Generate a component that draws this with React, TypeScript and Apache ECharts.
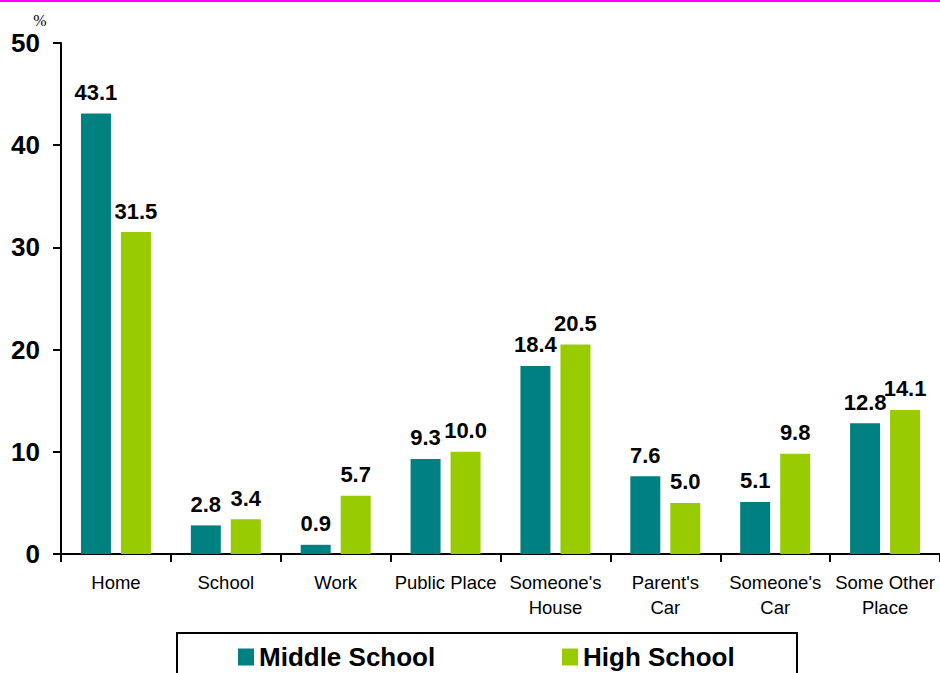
import React, { useEffect, useRef } from "react";
import * as echarts from "echarts";

const categories = [
  "Home",
  "School",
  "Work",
  "Public Place",
  "Someone's\nHouse",
  "Parent's\nCar",
  "Someone's\nCar",
  "Some Other\nPlace",
];
const middleSchool = [43.1, 2.8, 0.9, 9.3, 18.4, 7.6, 5.1, 12.8];
const highSchool = [31.5, 3.4, 5.7, 10.0, 20.5, 5.0, 9.8, 14.1];
const seriesNames = ["Middle School", "High School"];
const yTicks = { min: 0, max: 50, interval: 10 };

const TEAL = "#008080";
const GREEN = "#99CC00";
const FONT = "Arial, 'Liberation Sans', Helvetica, sans-serif";

export default function App() {
  const ref = useRef<HTMLDivElement>(null);
  useEffect(() => {
    if (!ref.current) return;
    const chart = echarts.init(ref.current, undefined, { renderer: "svg" });
    const labelCfg = {
      show: true,
      position: "top",
      distance: 10,
      color: "#000",
      fontFamily: FONT,
      fontWeight: "bold",
      fontSize: 22,
      formatter: (p: any) => Number(p.value).toFixed(1),
    };
    const legendText = { color: "#000", fontFamily: FONT, fontWeight: "bold", fontSize: 26 };
    chart.setOption({
      animation: false,
      backgroundColor: "#fff",
      grid: { left: 61, top: 43, width: 880, bottom: 119, containLabel: false },
      xAxis: {
        type: "category",
        data: categories,
        axisLine: { lineStyle: { color: "#000", width: 2 } },
        axisTick: { show: true, length: 8, lineStyle: { color: "#000", width: 2 } },
        axisLabel: {
          interval: 0,
          margin: 16,
          color: "#000",
          fontFamily: FONT,
          fontSize: 18.5,
          lineHeight: 25,
        },
      },
      yAxis: {
        type: "value",
        min: yTicks.min,
        max: yTicks.max,
        interval: yTicks.interval,
        axisLine: { show: true, lineStyle: { color: "#000", width: 2 } },
        axisTick: { show: true, length: 8, lineStyle: { color: "#000", width: 2 } },
        splitLine: { show: false },
        axisLabel: {
          margin: 21,
          color: "#000",
          fontFamily: FONT,
          fontWeight: "bold",
          fontSize: 26,
        },
      },
      legend: [
        {
          data: [seriesNames[0]],
          left: 238,
          top: 644,
          padding: 0,
          icon: "rect",
          itemWidth: 16,
          itemHeight: 17,
          textStyle: legendText,
        },
        {
          data: [seriesNames[1]],
          left: 562,
          top: 644,
          padding: 0,
          icon: "rect",
          itemWidth: 16,
          itemHeight: 17,
          textStyle: legendText,
        },
      ],
      graphic: [
        { type: "rect", shape: { x: 0, y: 0, width: 940, height: 2 }, style: { fill: "#FF00FF" } },
        {
          type: "rect",
          shape: { x: 177, y: 633, width: 620, height: 80 },
          style: { fill: "none", stroke: "#000", lineWidth: 2 },
        },
        {
          type: "text",
          x: 40,
          y: 20,
          style: {
            text: "%",
            fill: "#000",
            font: "16px 'Times New Roman', 'Liberation Serif', serif",
            align: "center",
            verticalAlign: "middle",
          },
        },
      ],
      series: [
        {
          name: seriesNames[0],
          type: "bar",
          data: middleSchool,
          barWidth: 30,
          barGap: "33.3%",
          itemStyle: { color: TEAL },
          label: labelCfg,
        },
        {
          name: seriesNames[1],
          type: "bar",
          data: highSchool,
          barWidth: 30,
          itemStyle: { color: GREEN },
          label: labelCfg,
        },
      ],
    });
    return () => chart.dispose();
  }, []);
  return (
    <div
      ref={ref}
      style={{ position: "fixed", left: 0, top: 0, width: 940, height: 673, background: "#fff" }}
    />
  );
}
